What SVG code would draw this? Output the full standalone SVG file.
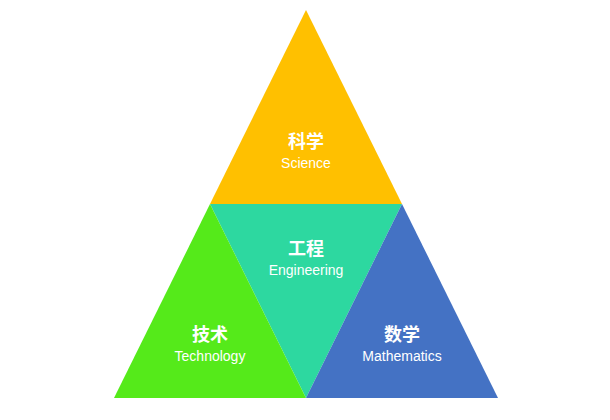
<svg xmlns="http://www.w3.org/2000/svg" width="610" height="420" viewBox="0 0 610 420">
<style>
.zh{font-family:"Liberation Sans","Noto Sans CJK SC",sans-serif;font-size:18px;font-weight:bold;fill:#fff;text-anchor:middle}
.en{font-family:"Liberation Sans","Noto Sans CJK SC",sans-serif;font-size:14px;fill:#fff;text-anchor:middle}
</style>
<rect width="610" height="420" fill="#fff"/>
<g id="science">
<polygon points="306,10 402,204 210,204" fill="#FFC000"/>
<text class="zh" x="306" y="148">科学</text>
<text class="en" x="306" y="168">Science</text>
</g>
<g id="engineering">
<polygon points="210,204 402,204 306,398" fill="#2DD8A0"/>
<text class="zh" x="306" y="255">工程</text>
<text class="en" x="306" y="275">Engineering</text>
</g>
<g id="technology">
<polygon points="210,204 306,398 114,398" fill="#55EA1A"/>
<text class="zh" x="210" y="341">技术</text>
<text class="en" x="210" y="361">Technology</text>
</g>
<g id="mathematics">
<polygon points="402,204 498,398 306,398" fill="#4472C4"/>
<text class="zh" x="402" y="341">数学</text>
<text class="en" x="402" y="361">Mathematics</text>
</g>
<g id="connectors"></g>
</svg>
